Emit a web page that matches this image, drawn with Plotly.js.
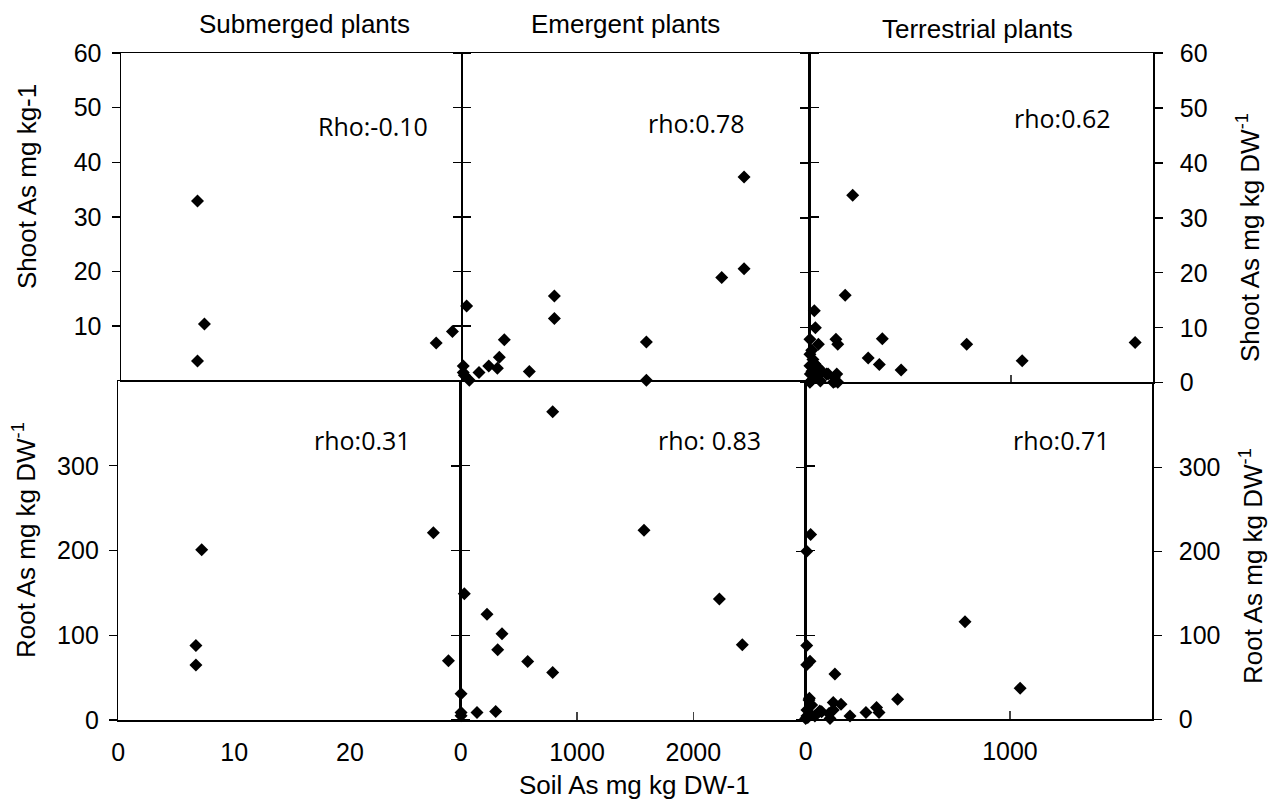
<!DOCTYPE html>
<html><head><meta charset="utf-8">
<script src="https://cdn.plot.ly/plotly-3.0.1.min.js"></script>
<style>html,body{margin:0;padding:0;background:#fff}#chart{width:1278px;height:809px}</style>
</head><body><div id="chart"></div>
<script>
// ---- Data ----
const panelTitles = ["Submerged plants", "Emergent plants", "Terrestrial plants"];
const rhoLabels = ["Rho:-0.10", "rho:0.78", "rho:0.62", "rho:0.31", "rho: 0.83", "rho:0.71"];

// Submerged plants
const subShootX = [6.6, 7.2, 6.6, 27.2, 28.6];
const subShootY = [32.9, 10.4, 3.6, 6.9, 9.0];
const subRootX  = [6.7, 6.7, 7.2, 27.2, 28.5];
const subRootY  = [88, 65, 201, 221, 70];

// Emergent plants
const emShootX = [2419, 2419, 2227, 788, 788, 1579, 1579, 34, 358, 315, 298, 224, 140, 573, 5, 5, 57, 14];
const emShootY = [37.3, 20.5, 18.9, 15.5, 11.4, 7.1, 0.1, 13.7, 7.5, 4.3, 2.3, 2.7, 1.5, 1.7, 2.7, 1.5, 0.1, 1.0];
const emRootX  = [791, 1576, 2224, 2421, 31, 226, 355, 318, 576, 791, 3, 3, 3, 140, 301];
const emRootY  = [364, 224, 143, 89, 149, 125, 102, 83, 69, 56, 31, 9, 5, 9, 10];

// Terrestrial plants
const terShootX = [215, 178, 1615, 780, 1055, 362, 292, 347, 455, 132, 141, 136, 119, 141, 25, 30,
                   3, 45, 12, 3, 18, 28, 3, 45, 13, 63, 5, 33, 85, 13, 55, 3, 93, 124, 127];
const terShootY = [34.1, 15.9, 7.3, 7.0, 4.0, 8.0, 4.5, 3.3, 2.3, 7.9, 7.0, 1.6, 0.1, 0.1, 13.1, 10.0,
                   7.9, 7.0, 5.9, 5.2, 4.2, 3.4, 3.1, 2.7, 2.1, 2.0, 1.6, 1.0, 1.6, 0.5, 0.3, 0.1, 1.6, 1.0, 0.2];
const terRootX = [780, 1050, 450, 143, 24, 5, 5, 21, 5, 18, 135, 173, 347, 359, 295, 217, 135, 119, 78,
                  16, 29, 6, 20, 6, 45, 69, 0, 114, 10];
const terRootY = [116, 37, 24, 54, 220, 200, 88, 69, 65, 25, 20, 18, 14, 8, 8, 4, 11, 1, 9,
                  23, 17, 11, 7, 4, 4, 10, 1, 7, 2];

// Axis ticks
const shootTicks = [0, 10, 20, 30, 40, 50, 60];
const shootTicksLeft = [10, 20, 30, 40, 50, 60];
const rootTicks = [0, 100, 200, 300];
const subSoilTicks = [0, 10, 20];
const emSoilTicks = [0, 1000, 2000];
const terSoilTicks = [0, 1000];

// ---- Layout helpers ----
const W = 1278, H = 809;
const fx = px => px / W;
const fy = py => 1 - py / H;
const FONT = "Liberation Sans, Arial, sans-serif";

const marker = {symbol: "diamond", size: 10, color: "#000"};
function tr(x, y, xa, ya) {
  return {type: "scatter", mode: "markers", x: x, y: y, xaxis: xa, yaxis: ya,
          marker: marker, cliponaxis: false, showlegend: false, hoverinfo: "x+y"};
}
const data = [
  tr(subShootX, subShootY, "x", "y"),
  tr(emShootX, emShootY, "x2", "y2"),
  tr(terShootX, terShootY, "x3", "y3"),
  tr(subRootX, subRootY, "x4", "y4"),
  tr(emRootX, emRootY, "x5", "y5"),
  tr(terRootX, terRootY, "x6", "y6")
];

const base = {showline: true, linecolor: "#000", linewidth: 1.5, showgrid: false, zeroline: false,
              tickcolor: "#000", tickwidth: 1.3, ticklen: 8, fixedrange: true,
              tickfont: {family: FONT, size: 25, color: "#000"}};
function ax(o) { return Object.assign({}, base, o); }

const layout = {
  width: W, height: H,
  margin: {l: 0, r: 0, t: 0, b: 0},
  paper_bgcolor: "#fff", plot_bgcolor: "rgba(0,0,0,0)",
  showlegend: false,
  // top row
  xaxis:  ax({domain: [fx(121), fx(461.7)], range: [0, 29.4], ticks: "", showticklabels: false, mirror: true, anchor: "y"}),
  yaxis:  ax({domain: [fy(380.7), fy(53)], range: [0, 60], tickvals: shootTicksLeft,
              ticks: "outside", mirror: "ticks", anchor: "x", ticklabelstandoff: 5}),
  xaxis2: ax({domain: [fx(462.7), fx(809.3)], range: [0, 2980], ticks: "", showticklabels: false, mirror: true, anchor: "y2"}),
  yaxis2: ax({domain: [fy(380.7), fy(53)], range: [0, 60], tickvals: shootTicks, showticklabels: false,
              ticks: "outside", mirror: "ticks", anchor: "x2"}),
  xaxis3: ax({domain: [fx(809.3), fx(1153.3)], range: [0, 1705], tickvals: terSoilTicks, ticks: "inside",
              showticklabels: false, mirror: true, anchor: "y3", tickcolor: "#444"}),
  yaxis3: ax({domain: [fy(382.7), fy(53)], range: [0, 60], tickvals: shootTicks, side: "right",
              ticks: "outside", mirror: "ticks", anchor: "x3", ticklabelstandoff: 12}),
  // bottom row
  xaxis4: ax({domain: [fx(118.3), fx(460)], range: [0, 29.5], tickvals: subSoilTicks, ticks: "",
              mirror: true, anchor: "y4", ticklabelstandoff: 9}),
  yaxis4: ax({domain: [fy(720), fy(381)], range: [0, 400], tickvals: rootTicks,
              ticks: "outside", mirror: "ticks", anchor: "x4", ticklabelstandoff: 5}),
  xaxis5: ax({domain: [fx(460.7), fx(805.7)], range: [0, 2966], tickvals: emSoilTicks, ticks: "inside",
              mirror: true, anchor: "y5", ticklabelstandoff: 9, tickcolor: "#444"}),
  yaxis5: ax({domain: [fy(720), fy(381.3)], range: [0, 400], tickvals: rootTicks, showticklabels: false,
              ticks: "outside", mirror: "ticks", anchor: "x5"}),
  xaxis6: ax({domain: [fx(805.7), fx(1152.3)], range: [0, 1697], tickvals: terSoilTicks, ticks: "inside",
              mirror: true, anchor: "y6", ticklabelstandoff: 9, tickcolor: "#444"}),
  yaxis6: ax({domain: [fy(719.3), fy(383.3)], range: [0, 400], tickvals: rootTicks, side: "right",
              ticks: "outside", mirror: "ticks", anchor: "x6", ticklabelstandoff: 12}),
  annotations: []
};

function ann(text, px, py, size, family, angle) {
  layout.annotations.push({text: text, xref: "paper", yref: "paper", x: fx(px), y: fy(py),
    xanchor: "center", yanchor: "middle", showarrow: false, textangle: angle || 0,
    font: {family: family || FONT, size: size, color: "#000"}});
}
// panel titles
ann(panelTitles[0], 304, 24, 26);
ann(panelTitles[1], 625, 24, 26);
ann(panelTitles[2], 977.5, 29, 26);
// rho labels
const RHOFONT = "Open Sans, Noto Sans, sans-serif";
ann(rhoLabels[0], 373, 126, 25, RHOFONT);
ann(rhoLabels[1], 696, 123, 25, RHOFONT);
ann(rhoLabels[2], 1062, 118, 25, RHOFONT);
ann(rhoLabels[3], 362, 440, 25, RHOFONT);
ann(rhoLabels[4], 709, 440, 25, RHOFONT);
ann(rhoLabels[5], 1061, 440, 25, RHOFONT);
// axis titles
ann("Shoot As mg kg-1", 27, 187, 26, FONT, -90);
ann("Root As mg kg DW<sup>-1</sup>", 24, 540, 26, FONT, -90);
ann("Shoot As mg kg DW<sup>-1</sup>", 1248, 238, 26, FONT, -90);
ann("Root As mg kg DW<sup>-1</sup>", 1251, 566, 26, FONT, -90);
ann("Soil As mg kg DW-1", 634, 785, 26, FONT, 0);

Plotly.newPlot("chart", data, layout, {displayModeBar: false, staticPlot: true});
</script>
</body></html>
